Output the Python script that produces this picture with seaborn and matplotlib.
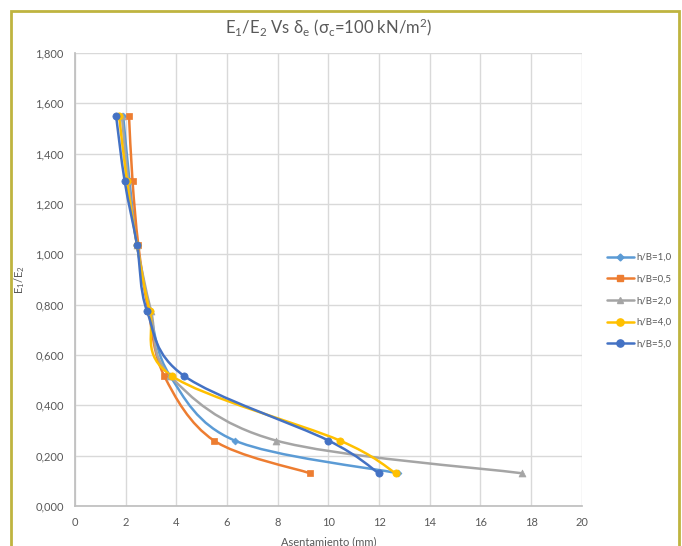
import numpy as np
import pandas as pd
import seaborn as sns
import matplotlib.pyplot as plt
from matplotlib.path import Path
from matplotlib.patches import PathPatch, Rectangle
from matplotlib.lines import Line2D
from matplotlib.ticker import FuncFormatter

# ==============================
#  DATA
# ==============================
y_e1e2 = [1.55, 1.29, 1.035, 0.775, 0.517, 0.26, 0.13]

x_hb10 = [1.90, 2.15, 2.45, 2.95, 3.75, 6.30, 12.75]
x_hb05 = [2.13, 2.27, 2.50, 2.90, 3.52, 5.48, 9.27]
x_hb20 = [1.85, 2.10, 2.45, 3.00, 3.75, 7.93, 17.63]
x_hb40 = [1.74, 2.05, 2.45, 2.95, 3.81, 10.45, 12.66]
x_hb50 = [1.62, 1.96, 2.45, 2.84, 4.30, 10.00, 11.99]

series_names = ["h/B=1,0", "h/B=0,5", "h/B=2,0", "h/B=4,0", "h/B=5,0"]
series_x = [x_hb10, x_hb05, x_hb20, x_hb40, x_hb50]
colors = ["#5B9BD5", "#ED7D31", "#A5A5A5", "#FFC000", "#4472C4"]
markers = ["D", "s", "^", "o", "o"]
msizes = [3.5, 4.8, 5, 5.2, 5.2]

rows = []
for name, xs in zip(series_names, series_x):
    for xv, yv in zip(xs, y_e1e2):
        rows.append({"serie": name, "x": xv, "y": yv})
df = pd.DataFrame(rows)

# ==============================
#  FIGURE
# ==============================
sns.set_theme(style="white")
plt.rcParams["font.family"] = ["Lato", "DejaVu Sans"]
plt.rcParams["mathtext.default"] = "regular"
txt = "#595959"

fig = plt.figure(figsize=(6.82, 5.46), dpi=100)
ax = fig.add_axes([0.110, 0.0733, 0.743, 0.830])

# smooth curves (Excel-like bezier)
def smooth_path(xs, ys, t=1/6):
    p = np.column_stack([xs, ys])
    n = len(p)
    verts = [p[0]]
    codes = [Path.MOVETO]
    for i in range(n - 1):
        p0 = p[i - 1] if i > 0 else p[i]
        p3 = p[i + 2] if i + 2 < n else p[i + 1]
        c1 = p[i] + (p[i + 1] - p0) * t
        c2 = p[i + 1] - (p3 - p[i]) * t
        verts += [c1, c2, p[i + 1]]
        codes += [Path.CURVE4] * 3
    return Path(verts, codes)

for xs, c in zip(series_x, colors):
    ax.add_patch(PathPatch(smooth_path(xs, y_e1e2), fill=False, edgecolor=c, lw=1.8, zorder=2))

for name, c, m, ms in zip(series_names, colors, markers, msizes):
    sub = df[df["serie"] == name]
    sns.scatterplot(data=sub, x="x", y="y", color=c, marker=m, s=ms ** 2,
                    edgecolor=c, linewidth=0.5, ax=ax, zorder=3, legend=False)

ax.set_xlim(0, 20)
ax.set_ylim(0, 1.8)
ax.set_xticks(np.arange(0, 21, 2))
ax.set_yticks(np.arange(0, 1.81, 0.2))
ax.yaxis.set_major_formatter(FuncFormatter(lambda v, p: f"{v:.3f}".replace(".", ",")))
ax.grid(True, color="#D9D9D9", lw=1)
ax.set_axisbelow(True)
for s in ["top", "right"]:
    ax.spines[s].set_visible(False)
for s in ["left", "bottom"]:
    ax.spines[s].set_color("#BFBFBF")
ax.tick_params(colors=txt, labelsize=8, length=0, pad=8)

ax.set_xlabel("Asentamiento (mm)", color=txt, fontsize=8, labelpad=6)
ax.set_ylabel("E$_1$/E$_2$", color=txt, fontsize=8, labelpad=6)
ax.set_title("E$_1$/E$_2$ Vs δ$_e$ (σ$_c$=100 kN/m$^2$)", color=txt, fontsize=12, pad=14)

handles = [Line2D([0], [0], color=c, lw=1.8, marker=m, markersize=ms)
           for c, m, ms in zip(colors, markers, msizes)]
ax.legend(handles, series_names, loc="center left", bbox_to_anchor=(1.0, 0.4525),
          frameon=False, fontsize=7, labelcolor=txt, handlelength=2.75,
          handletextpad=0.25, labelspacing=1.3, borderaxespad=2.2)

# outer frame
fig.patches.append(Rectangle((11 / 682, -0.05), 668 / 682, 1.05 - 11 / 546, transform=fig.transFigure,
                             fill=False, edgecolor="#BFB440", lw=2))

fig.savefig("out.png", dpi=100)
